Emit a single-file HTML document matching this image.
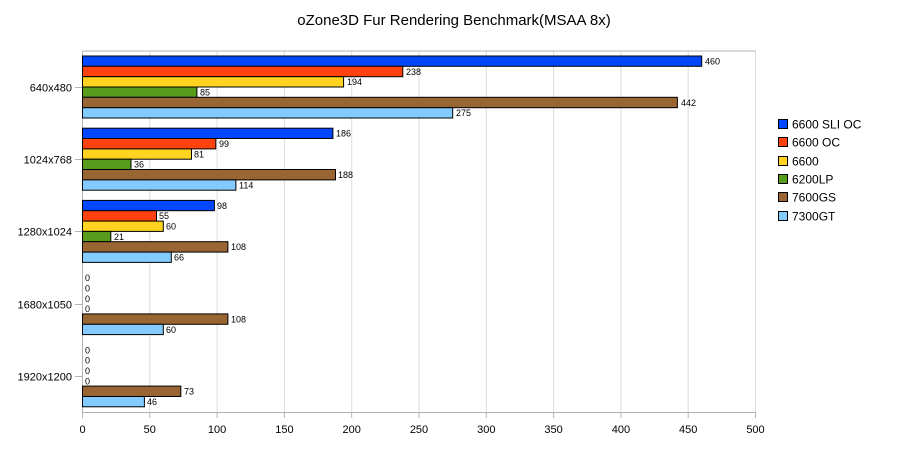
<!DOCTYPE html>
<html><head><meta charset="utf-8"><style>body{margin:0;background:#fff}svg{display:block}</style></head><body>
<svg width="908" height="455" xmlns="http://www.w3.org/2000/svg" font-family="Liberation Sans, sans-serif">
<rect width="908" height="455" fill="#fff"/>
<text x="454" y="25" font-size="15" text-anchor="middle">oZone3D Fur Rendering Benchmark(MSAA 8x)</text>
<g stroke="#dcdcdc" stroke-width="1">
<line x1="149.8" y1="51" x2="149.8" y2="412"/><line x1="217.1" y1="51" x2="217.1" y2="412"/><line x1="284.4" y1="51" x2="284.4" y2="412"/><line x1="351.7" y1="51" x2="351.7" y2="412"/><line x1="419" y1="51" x2="419" y2="412"/><line x1="486.3" y1="51" x2="486.3" y2="412"/><line x1="553.6" y1="51" x2="553.6" y2="412"/><line x1="620.9" y1="51" x2="620.9" y2="412"/><line x1="688.2" y1="51" x2="688.2" y2="412"/><line x1="755.5" y1="51" x2="755.5" y2="412"/>
</g>
<line x1="82.5" y1="51" x2="755.5" y2="51" stroke="#b3b3b3"/>
<g stroke="#b3b3b3">
<line x1="82.5" y1="51" x2="82.5" y2="418"/><line x1="82" y1="412.5" x2="756" y2="412.5"/>
<line x1="75" y1="87.5" x2="82" y2="87.5"/><line x1="75" y1="159.5" x2="82" y2="159.5"/><line x1="75" y1="231.5" x2="82" y2="231.5"/><line x1="75" y1="304.5" x2="82" y2="304.5"/><line x1="75" y1="376.5" x2="82" y2="376.5"/>
<line x1="149.8" y1="412" x2="149.8" y2="418"/><line x1="217.1" y1="412" x2="217.1" y2="418"/><line x1="284.4" y1="412" x2="284.4" y2="418"/><line x1="351.7" y1="412" x2="351.7" y2="418"/><line x1="419" y1="412" x2="419" y2="418"/><line x1="486.3" y1="412" x2="486.3" y2="418"/><line x1="553.6" y1="412" x2="553.6" y2="418"/><line x1="620.9" y1="412" x2="620.9" y2="418"/><line x1="688.2" y1="412" x2="688.2" y2="418"/><line x1="755.5" y1="412" x2="755.5" y2="418"/>
</g>
<g font-size="11" text-anchor="end">
<text x="72" y="91.5">640x480</text><text x="72" y="163.5">1024x768</text><text x="72" y="235.5">1280x1024</text><text x="72" y="308.5">1680x1050</text><text x="72" y="380.5">1920x1200</text>
</g>
<g font-size="11" text-anchor="middle">
<text x="82.5" y="433">0</text><text x="149.8" y="433">50</text><text x="217.1" y="433">100</text><text x="284.4" y="433">150</text><text x="351.7" y="433">200</text><text x="419" y="433">250</text><text x="486.3" y="433">300</text><text x="553.6" y="433">350</text><text x="620.9" y="433">400</text><text x="688.2" y="433">450</text><text x="755.5" y="433">500</text>
</g>
<g stroke="#000" stroke-width="1">
<rect x="82.5" y="56" width="619.2" height="10.3" fill="#0047ff"/>
<rect x="82.5" y="66.3" width="320.3" height="10.4" fill="#ff420e"/>
<rect x="82.5" y="76.7" width="261.1" height="10.3" fill="#ffd320"/>
<rect x="82.5" y="87" width="114.4" height="10.3" fill="#579d1c"/>
<rect x="82.5" y="97.3" width="594.9" height="10.4" fill="#996633"/>
<rect x="82.5" y="107.7" width="370.2" height="10.3" fill="#83caff"/>
<rect x="82.5" y="128.2" width="250.4" height="10.3" fill="#0047ff"/>
<rect x="82.5" y="138.5" width="133.3" height="10.4" fill="#ff420e"/>
<rect x="82.5" y="148.9" width="109" height="10.3" fill="#ffd320"/>
<rect x="82.5" y="159.2" width="48.5" height="10.3" fill="#579d1c"/>
<rect x="82.5" y="169.5" width="253" height="10.4" fill="#996633"/>
<rect x="82.5" y="179.9" width="153.4" height="10.3" fill="#83caff"/>
<rect x="82.5" y="200.4" width="131.9" height="10.3" fill="#0047ff"/>
<rect x="82.5" y="210.7" width="74" height="10.4" fill="#ff420e"/>
<rect x="82.5" y="221.1" width="80.8" height="10.3" fill="#ffd320"/>
<rect x="82.5" y="231.4" width="28.3" height="10.3" fill="#579d1c"/>
<rect x="82.5" y="241.7" width="145.4" height="10.4" fill="#996633"/>
<rect x="82.5" y="252.1" width="88.8" height="10.3" fill="#83caff"/>
<rect x="82.5" y="313.9" width="145.4" height="10.4" fill="#996633"/>
<rect x="82.5" y="324.3" width="80.8" height="10.3" fill="#83caff"/>
<rect x="82.5" y="386.1" width="98.3" height="10.4" fill="#996633"/>
<rect x="82.5" y="396.5" width="61.9" height="10.3" fill="#83caff"/>
</g>
<g font-size="9">
<text x="705" y="64.5">460</text><text x="406" y="75">238</text><text x="347" y="85.2">194</text><text x="200" y="95.5">85</text><text x="681" y="106">442</text><text x="456" y="116.2">275</text>
<text x="336" y="136.7">186</text><text x="219" y="147">99</text><text x="194" y="157.4">81</text><text x="134" y="167.7">36</text><text x="338" y="178">188</text><text x="239" y="188.4">114</text>
<text x="217" y="208.9">98</text><text x="159" y="219.2">55</text><text x="166" y="229.6">60</text><text x="114" y="239.9">21</text><text x="231" y="250.2">108</text><text x="174" y="260.6">66</text>
<text x="85" y="281.1">0</text><text x="85" y="291.4">0</text><text x="85" y="301.8">0</text><text x="85" y="312.1">0</text><text x="231" y="322.4">108</text><text x="166" y="332.8">60</text>
<text x="85" y="353.3">0</text><text x="85" y="363.6">0</text><text x="85" y="374">0</text><text x="85" y="384.3">0</text><text x="184" y="394.6">73</text><text x="147" y="405">46</text>
</g>
<g stroke="#000">
<rect x="778.5" y="119.5" width="9" height="9" fill="#0047ff"/>
<rect x="778.5" y="137.5" width="9" height="9" fill="#ff420e"/>
<rect x="778.5" y="156.5" width="9" height="9" fill="#ffd320"/>
<rect x="778.5" y="174.5" width="9" height="9" fill="#579d1c"/>
<rect x="778.5" y="192.5" width="9" height="9" fill="#996633"/>
<rect x="778.5" y="211.5" width="9" height="9" fill="#83caff"/>
</g>
<g font-size="12">
<text x="792" y="128.5">6600 SLI OC</text><text x="792" y="146.5">6600 OC</text><text x="792" y="165.5">6600</text><text x="792" y="183.5">6200LP</text><text x="792" y="201.5">7600GS</text><text x="792" y="220.5">7300GT</text>
</g>
</svg>
</body></html>
